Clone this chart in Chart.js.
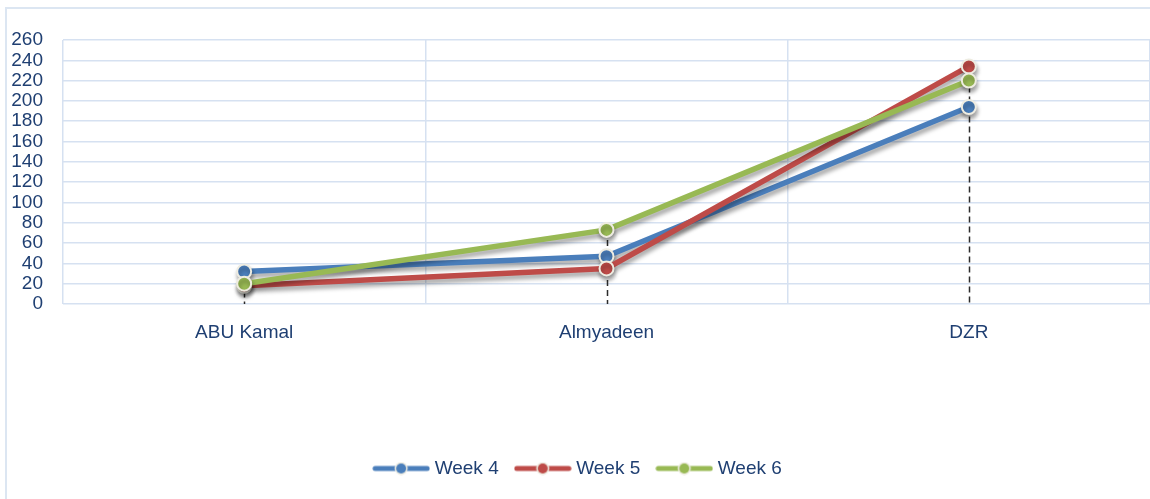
<!DOCTYPE html>
<html>
<head>
<meta charset="utf-8">
<script src="https://cdn.jsdelivr.net/npm/chart.js@4.4.0/dist/chart.umd.min.js"></script>
<style>
  html, body { margin: 0; padding: 0; background: #fff; }
  #wrap { position: relative; width: 1150px; height: 499px; overflow: hidden; }
  #frame { position: absolute; left: 5px; top: 7px; width: 1160px; height: 510px; border: 2px solid #DCE6F2; box-sizing: border-box; }
  #chart { position: absolute; left: 0; top: 0; }
</style>
</head>
<body>
<div id="wrap">
  <div id="frame"></div>
  <canvas id="chart" width="1159" height="499"></canvas>
</div>
<script>
const categories = ['ABU Kamal', 'Almyadeen', 'DZR'];
const week4 = [32, 47, 194];
const week5 = [18, 35, 234];
const week6 = [20, 73, 220];
const seriesNames = ['Week 4', 'Week 5', 'Week 6'];
const seriesColors = ['#4A7EBB', '#BE4B48', '#98B954'];
const yMin = 0, yMax = 260, yStep = 20;

const textColor = '#1F3F72';
const gridColor = '#D6E1F1';
const markerBorder = '#EEECE1';
const fontFamily = 'Liberation Sans';

// legend marker: short line with a dot in the middle
function legendMarker(color) {
  const c = document.createElement('canvas');
  c.width = 58; c.height = 14;
  const g = c.getContext('2d');
  g.strokeStyle = color;
  g.lineWidth = 5;
  g.lineCap = 'round';
  g.beginPath(); g.moveTo(3, 7); g.lineTo(55, 7); g.stroke();
  g.beginPath(); g.arc(29, 7, 6.5, 0, Math.PI * 2);
  g.fillStyle = markerBorder; g.fill();
  g.beginPath(); g.arc(29, 7, 5, 0, Math.PI * 2);
  g.fillStyle = color; g.fill();
  return c;
}
const markers = seriesColors.map(legendMarker);

// dashed drop lines from highest point down to the axis
const dropLines = {
  id: 'dropLines',
  beforeDatasetsDraw(chart) {
    const { ctx, scales: { x, y }, chartArea } = chart;
    ctx.save();
    ctx.strokeStyle = '#2b2b2b';
    ctx.lineWidth = 1.5;
    ctx.setLineDash([6, 4]);
    categories.forEach((c, i) => {
      const top = Math.max(week4[i], week5[i], week6[i]);
      const px = Math.round(x.getPixelForValue(i)) + 0.5;
      ctx.beginPath();
      ctx.moveTo(px, y.getPixelForValue(top));
      ctx.lineTo(px, chartArea.bottom);
      ctx.stroke();
    });
    ctx.restore();
  }
};

// soft shadow under the lines
const lineShadow = {
  id: 'lineShadow',
  beforeDatasetDraw(chart) {
    const ctx = chart.ctx;
    ctx.save();
    ctx.shadowColor = 'rgba(0,0,0,0.35)';
    ctx.shadowBlur = 4;
    ctx.shadowOffsetX = 1;
    ctx.shadowOffsetY = 4;
  },
  afterDatasetDraw(chart) {
    chart.ctx.restore();
  }
};

const seriesData = [week4, week5, week6];
const datasets = seriesNames.map((name, i) => ({
  label: name,
  data: seriesData[i],
  borderColor: seriesColors[i],
  backgroundColor: seriesColors[i],
  borderWidth: 5.5,
  pointRadius: 7,
  pointHoverRadius: 7,
  pointBackgroundColor: seriesColors[i],
  pointBorderColor: markerBorder,
  pointBorderWidth: 2,
  tension: 0,
  order: 3 - i
}));

new Chart(document.getElementById('chart'), {
  type: 'line',
  data: { labels: categories, datasets },
  plugins: [dropLines, lineShadow],
  options: {
    responsive: false,
    animation: false,
    layout: { padding: { top: 40, right: 0, bottom: 11, left: 0 } },
    plugins: {
      tooltip: { enabled: false },
      legend: {
        position: 'bottom',
        labels: {
          color: textColor,
          font: { family: fontFamily, size: 19 },
          usePointStyle: true,
          pointStyleWidth: 48,
          padding: 20,
          sort: (a, b) => a.datasetIndex - b.datasetIndex,
          generateLabels(chart) {
            const items = Chart.defaults.plugins.legend.labels.generateLabels(chart);
            items.forEach(it => { it.pointStyle = markers[it.datasetIndex]; });
            return items;
          }
        }
      }
    },
    scales: {
      x: {
        offset: true,
        grid: { offset: true, color: gridColor, lineWidth: 1.5, drawTicks: false },
        border: { display: false },
        ticks: { color: textColor, font: { family: fontFamily, size: 19 }, padding: 17 },
        afterFit(scale) { scale.height = 135; }
      },
      y: {
        min: yMin, max: yMax,
        grid: { color: gridColor, lineWidth: 1.5, drawTicks: false },
        border: { display: false },
        ticks: { stepSize: yStep, color: textColor, font: { family: fontFamily, size: 19 }, padding: 20, autoSkip: false },
        afterFit(scale) { scale.width = 63; }
      }
    }
  }
});
</script>
</body>
</html>
